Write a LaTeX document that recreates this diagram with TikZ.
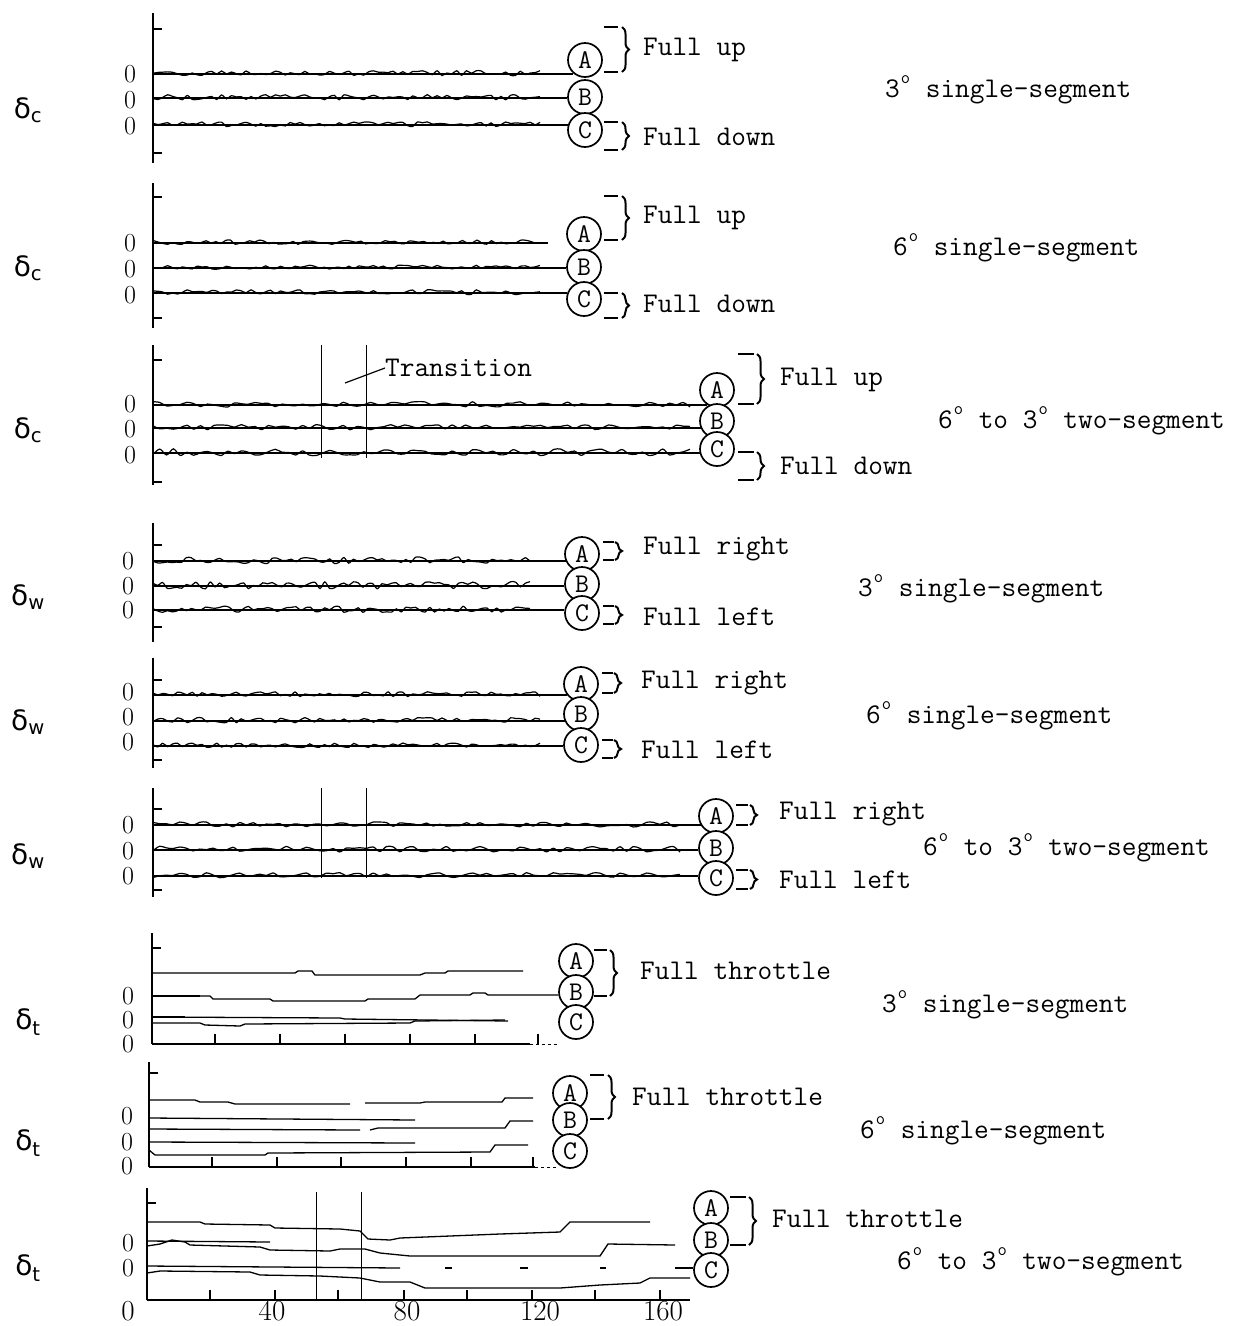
\documentclass[tikz,border=0pt]{standalone}
\usepackage{fontspec}
\newfontfamily\dvs{DejaVu Sans}
\usetikzlibrary{decorations.pathreplacing}
\newcommand\dg{\kern1pt\raisebox{.5em}{\fontsize{18}{18}\selectfont o}\kern1pt}
\newcommand\wigl[5]{% x0,x1,y,seed,amp
  \pgfmathsetseed{#4}%
  \draw[wig] plot[domain=#1:#2, samples=80, smooth, tension=0.5] (\x,{#3-0.8+#5*rand});
}
\newcommand\trc[6]{% x0, xwig, y, seed, endpoint, amp
  \coordinate (tmp) at (0,#3);
  \draw[base] (#1,#3) -- (#5 |- tmp);
  \wigl{#1}{#2}{#3}{#4}{#6}
}
\newcommand\mybrk[5]{% x1 x2 ytop ybot xb
  \draw[brk] (#1,#3) -- (#2,#3) (#1,#4) -- (#2,#4);
  \draw[brc] (#5,#3) -- (#5,#4);
}
\tikzset{
  ax/.style={line width=2.4pt},
  tk/.style={line width=1.8pt},
  base/.style={line width=2.1pt},
  wig/.style={line width=1.2pt},
  stp/.style={line width=1.3pt},
  vl/.style={line width=0.9pt},
  circ/.style={draw, circle, line width=1.7pt, minimum size=34pt, inner sep=0pt, fill=white,
    font=\ttfamily\fontsize{27}{27}\selectfont},
  lbl/.style={anchor=west, inner sep=0pt, font=\ttfamily\fontsize{28.5}{28.5}\selectfont},
  zero/.style={inner sep=0pt, text height=17pt, text depth=0pt, font=\fontsize{26}{26}\selectfont},
  xnum/.style={inner sep=0pt, text height=19pt, text depth=0pt, font=\fontsize{29}{29}\selectfont},
  dl/.style={inner sep=0pt, font=\dvs\fontsize{28}{28}\selectfont},
  brk/.style={line width=1.5pt},
  brc/.style={decorate, decoration={brace, amplitude=7pt}, line width=2pt},
}
\begin{document}
\begin{tikzpicture}[x=1pt,y=-1pt]
\useasboundingbox[fill=white] (0,0) rectangle (1247,1326);

% ===== Panel 1 =====
\draw[ax] (153,13) -- (153,163);
\draw[tk] (153,29) -- +(9,0);
\draw[tk] (153,153) -- +(9,0);
\node[circ] (p1A) at (585,60) {A};
\node[circ] (p1B) at (585,97) {B};
\node[circ] (p1C) at (585,130) {C};
\trc{153}{540}{74}{11}{p1A.228}{2.6}
\trc{153}{540}{98}{12}{p1B.183}{2.6}
\trc{153}{540}{125}{13}{p1C.163}{2.4}
\node[zero] (p1z1) at (130,74) {0};
\node[zero] (p1z2) at (130,100) {0};
\node[zero] (p1z3) at (130,126) {0};
\node[dl] (p1d) at (28,110) {δ\textsubscript{c}};
\mybrk{604}{618}{27}{72}{622}
\node[lbl] (p1u) at (643,50) {Full up};
\mybrk{604}{618}{122}{150}{622}
\node[lbl] (p1dn) at (643,137) {Full down};
\node[lbl] (p1r) at (885,90) {3\dg\ single-segment};

% ===== Panel 2 =====
\draw[ax] (153,183) -- (153,328);
\draw[tk] (153,197) -- +(9,0);
\draw[tk] (153,318) -- +(9,0);
\node[circ] (p2A) at (584,234) {A};
\node[circ] (p2B) at (584,267) {B};
\node[circ] (p2C) at (584,299) {C};
\coordinate (p2Ae) at (548,243);
\trc{153}{535}{243}{21}{p2Ae}{2.2}
\trc{153}{540}{268}{22}{p2B.183}{2.0}
\trc{153}{540}{293}{23}{p2C.160}{2.4}
\node[zero] (p2z1) at (130,243) {0};
\node[zero] (p2z2) at (130,269) {0};
\node[zero] (p2z3) at (130,295) {0};
\node[dl] (p2d) at (28,268) {δ\textsubscript{c}};
\mybrk{604}{618}{196}{240}{622}
\node[lbl] (p2u) at (643,218) {Full up};
\mybrk{604}{618}{293}{318}{622}
\node[lbl] (p2dn) at (643,304) {Full down};
\node[lbl] (p2r) at (893,248) {6\dg\ single-segment};

% ===== Panel 3 =====
\draw[ax] (153,345) -- (153,485);
\draw[tk] (153,360) -- +(9,0);
\draw[tk] (153,482) -- +(9,0);
\draw[vl] (321,345) -- (321,458);
\draw[vl] (366,345) -- (366,458);
\node[circ] (p3A) at (717,390) {A};
\node[circ] (p3B) at (717,421) {B};
\node[circ] (p3C) at (717,449) {C};
\trc{153}{690}{405}{31}{p3A.236}{2.8}
\trc{153}{690}{428}{32}{p3B.204}{2.8}
\trc{153}{690}{453}{33}{p3C.193}{3.4}
\node[zero] (p3z1) at (130,404) {0};
\node[zero] (p3z2) at (130,429) {0};
\node[zero] (p3z3) at (130,455) {0};
\node[dl] (p3d) at (28,430) {δ\textsubscript{c}};
\coordinate (trs) at (345,383);
\node[lbl] (p3t) at (385,368) {Transition};
\draw[line width=1.2pt] (trs) -- (p3t.west);
\mybrk{738}{754}{354}{404}{757}
\node[lbl] (p3u) at (780,380) {Full up};
\mybrk{738}{754}{452}{480}{757}
\node[lbl] (p3dn) at (780,466) {Full down};
\node[lbl] (p3r) at (938,421) {6\dg\ to 3\dg\ two-segment};

% ===== Panel 4 =====
\draw[ax] (153,523) -- (153,642);
\draw[tk] (153,545) -- +(9,0);
\draw[tk] (153,627) -- +(9,0);
\node[circ] (p4A) at (582,554) {A};
\node[circ] (p4B) at (582,584) {B};
\node[circ] (p4C) at (582,613) {C};
\trc{153}{530}{561}{41}{p4A.204}{3.2}
\trc{153}{530}{586}{42}{p4B.187}{3.6}
\trc{153}{530}{610}{43}{p4C.170}{3.2}
\node[zero] (p4z1) at (128,561) {0};
\node[zero] (p4z2) at (128,586) {0};
\node[zero] (p4z3) at (128,610) {0};
\node[dl] (p4d) at (28,597) {δ\textsubscript{w}};
\mybrk{603}{614}{542}{560}{615}
\node[lbl] (p4u) at (643,549) {Full right};
\mybrk{603}{614}{606}{624}{615}
\node[lbl] (p4dn) at (643,617) {Full left};
\node[lbl] (p4r) at (858,589) {3\dg\ single-segment};

% ===== Panel 5 =====
\draw[ax] (153,658) -- (153,768);
\draw[tk] (153,680) -- +(9,0);
\draw[tk] (153,760) -- +(9,0);
\node[circ] (p5A) at (581,684) {A};
\node[circ] (p5B) at (581,714) {B};
\node[circ] (p5C) at (581,745) {C};
\trc{153}{540}{695}{51}{p5A.219}{2.4}
\trc{153}{540}{721}{52}{p5B.204}{2.6}
\trc{153}{540}{746}{53}{p5C.183}{2.2}
\node[zero] (p5z1) at (128,692) {0};
\node[zero] (p5z2) at (128,717) {0};
\node[zero] (p5z3) at (128,742) {0};
\node[dl] (p5d) at (28,722) {δ\textsubscript{w}};
\mybrk{602}{613}{673}{693}{614}
\node[lbl] (p5u) at (641,683) {Full right};
\mybrk{602}{613}{740}{758}{614}
\node[lbl] (p5dn) at (641,750) {Full left};
\node[lbl] (p5r) at (866,716) {6\dg\ single-segment};

% ===== Panel 6 =====
\draw[ax] (153,788) -- (153,897);
\draw[tk] (153,809) -- +(9,0);
\draw[tk] (153,890) -- +(9,0);
\draw[vl] (321,788) -- (321,878);
\draw[vl] (366,788) -- (366,878);
\node[circ] (p6A) at (716,816) {A};
\node[circ] (p6B) at (716,848) {B};
\node[circ] (p6C) at (716,878) {C};
\trc{153}{680}{825}{61}{p6A.211}{2.8}
\trc{153}{680}{850}{62}{p6B.187}{3.0}
\trc{153}{680}{876}{63}{p6C.173}{2.6}
\node[zero] (p6z1) at (128,825) {0};
\node[zero] (p6z2) at (128,851) {0};
\node[zero] (p6z3) at (128,876) {0};
\node[dl] (p6d) at (28,856) {δ\textsubscript{w}};
\mybrk{736}{748}{805}{825}{750}
\node[lbl] (p6u) at (779,814) {Full right};
\mybrk{736}{748}{870}{889}{750}
\node[lbl] (p6dn) at (779,880) {Full left};
\node[lbl] (p6r) at (923,848) {6\dg\ to 3\dg\ two-segment};

% ===== Panel 7 =====
\draw[ax] (152,933) -- (152,1044);
\draw[tk] (152,948) -- +(9,0);
\draw[tk] (152,1044) -- (530,1044);
\draw[vl, dashed] (530,1044) -- (558,1044);
\foreach \t in {215,280,345,410,475,538} \draw[tk] (\t,1044) -- (\t,1034);
\node[circ] (p7A) at (576,961) {A};
\node[circ] (p7B) at (576,992) {B};
\node[circ] (p7C) at (576,1022) {C};
\draw[stp] (152,973) -- (295,973) -- (298,971) -- (312,971) -- (315,975) -- (420,975) -- (425,973) -- (445,973) -- (448,971) -- (523,971);
\coordinate (t7) at (0,995);
\draw[stp] (152,996) -- (210,996) -- (213,999) -- (270,999) -- (273,1001) -- (365,1001) -- (368,999) -- (415,999) -- (420,995) -- (470,995) -- (473,993) -- (485,993) -- (488,995) -- (p7B.190 |- t7);
\draw[line width=2.2pt] (152,996) -- (200,996);
\draw[stp] (152,1017) -- (340,1018) -- (345,1019) -- (508,1021);
\draw[line width=2.2pt] (152,1017) -- (185,1017);
\draw[stp] (152,1023) -- (200,1023) -- (205,1025) -- (240,1026) -- (245,1024) -- (410,1023) -- (415,1021) -- (505,1020);
\node[zero] (p7z1) at (128,996) {0};
\node[zero] (p7z2) at (128,1020) {0};
\node[zero] (p7z3) at (128,1044) {0};
\node[dl] (p7d) at (28,1022) {δ\textsubscript{t}};
\mybrk{594}{607}{950}{996}{610}
\node[lbl] (p7u) at (640,971) {Full throttle};
\node[lbl] (p7r) at (882,1005) {3\dg\ single-segment};

% ===== Panel 8 =====
\draw[ax] (149,1062) -- (149,1167);
\draw[tk] (149,1073) -- +(9,0);
\draw[tk] (149,1167) -- (535,1167);
\draw[vl, dashed] (535,1167) -- (556,1167);
\foreach \t in {212,277,341,406,471,533} \draw[tk] (\t,1167) -- (\t,1157);
\node[circ] (p8A) at (570,1093) {A};
\node[circ] (p8B) at (570,1120) {B};
\node[circ] (p8C) at (570,1151) {C};
\draw[stp] (149,1100) -- (195,1100) -- (200,1102) -- (228,1102) -- (235,1104) -- (350,1104);
\draw[stp] (365,1103) -- (420,1103) -- (425,1102) -- (502,1102) -- (505,1098) -- (533,1098);
\draw[stp] (149,1118) -- (415,1120);
\draw[stp] (149,1129) -- (360,1130);
\draw[stp] (370,1130) -- (378,1128) -- (505,1128) -- (510,1121) -- (533,1121);
\draw[stp] (149,1142) -- (415,1143);
\draw[stp] (149,1150) -- (155,1155) -- (265,1155) -- (268,1153) -- (490,1152) -- (495,1145) -- (528,1145);
\node[zero] (p8z1) at (127,1116) {0};
\node[zero] (p8z2) at (127,1142) {0};
\node[zero] (p8z3) at (127,1166) {0};
\node[dl] (p8d) at (28,1143) {δ\textsubscript{t}};
\mybrk{590}{604}{1075}{1119}{608}
\node[lbl] (p8u) at (632,1097) {Full throttle};
\node[lbl] (p8r) at (860,1131) {6\dg\ single-segment};

% ===== Panel 9 =====
\draw[ax] (147,1188) -- (147,1300);
\draw[tk] (147,1203) -- +(9,0);
\draw[tk] (147,1300) -- (690,1300);
\foreach \t in {210,275,338,404,467,532,595,660} \draw[tk] (\t,1300) -- (\t,1290);
\draw[vl] (316,1192) -- (316,1300);
\draw[vl] (361,1192) -- (361,1300);
\node[circ] (p9A) at (711,1208) {A};
\node[circ] (p9B) at (711,1240) {B};
\node[circ] (p9C) at (711,1270) {C};
\draw[stp] (147,1222) -- (200,1222) -- (205,1224) -- (270,1225) -- (275,1228) -- (340,1229) -- (360,1231) -- (368,1239) -- (390,1240) -- (400,1238) -- (500,1234) -- (560,1232) -- (570,1222) -- (650,1222);
\draw[stp] (147,1246) -- (160,1244) -- (172,1240) -- (185,1242) -- (190,1245) -- (260,1247) -- (270,1250) -- (330,1251) -- (340,1249) -- (365,1249) -- (380,1253) -- (410,1256) -- (600,1256) -- (608,1244) -- (675,1245);
\draw[stp] (147,1241) -- (270,1242);
\coordinate (t9) at (0,1268);
\draw[stp] (147,1266) -- (400,1268);
\draw[stp] (445,1268) -- (452,1268) (520,1268) -- (528,1268) (600,1268) -- (606,1268) (675,1268) -- (p9C.185 |- t9);
\draw[stp] (147,1273) -- (160,1271) -- (250,1272) -- (260,1275) -- (320,1276) -- (360,1278) -- (380,1282) -- (410,1282) -- (425,1288) -- (560,1288) -- (600,1285) -- (640,1283) -- (650,1278) -- (690,1278);
\node[zero] (p9z1) at (128,1243) {0};
\node[zero] (p9z2) at (128,1268) {0};
\node[xnum] (xl0) at (128,1311) {0};
\node[xnum] (xl40) at (272,1311) {40};
\node[xnum] (xl80) at (407,1311) {80};
\node[xnum] (xl120) at (540,1311) {120};
\node[xnum] (xl160) at (663,1311) {160};
\node[dl] (p9d) at (28,1268) {δ\textsubscript{t}};
\mybrk{730}{746}{1197}{1245}{749}
\node[lbl] (p9u) at (772,1219) {Full throttle};
\node[lbl] (p9r) at (897,1262) {6\dg\ to 3\dg\ two-segment};
\end{tikzpicture}
\end{document}
